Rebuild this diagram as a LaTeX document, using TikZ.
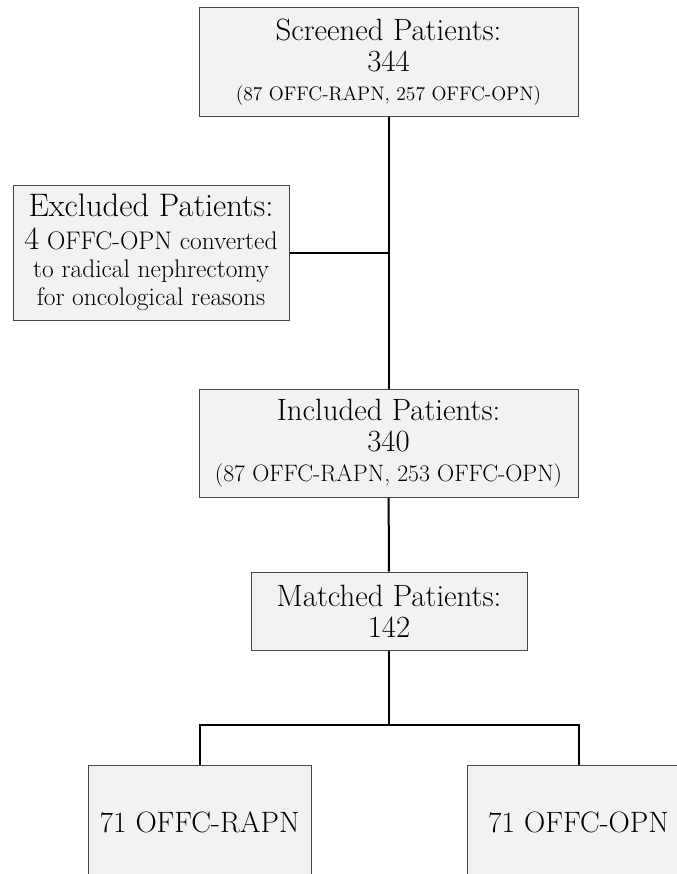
\documentclass[tikz,border=0pt]{standalone}
\usepackage{xcolor}
\definecolor{boxfill}{RGB}{242,242,242}
\definecolor{boxline}{RGB}{70,70,70}

\tikzset{every picture/.style={line width=0.75pt}}
\tikzset{
  patbox/.style={draw=boxline, fill=boxfill, line width=0.75pt, inner sep=0pt, align=center},
  link/.style={draw=black, line width=1.5pt},
}

\begin{document}
\begin{tikzpicture}[x=0.75pt,y=0.75pt,yscale=-1,xscale=1]
\clip (0,0) rectangle (677,874);

%Shape: Rectangle [id:screened]
\node [patbox, minimum width=284.25pt, minimum height=81pt, font=\fontsize{23.1}{23.25}\selectfont] (screened) at (388.5,62) {Screened Patients:\\344\\[-1.5pt]{\fontsize{14.7}{16}\selectfont (87 OFFC-RAPN, 257 OFFC-OPN)}};
%Shape: Rectangle [id:excluded]
\node [patbox, minimum width=207pt, minimum height=101.25pt, font=\fontsize{19.1}{21}\selectfont] (excluded) at (151,252.5) {{\fontsize{24.4}{24}\selectfont Excluded Patients:}\\[4pt]{\fontsize{24.4}{24}\selectfont 4} OFFC-OPN converted\\to radical nephrectomy\\for oncological reasons};
%Shape: Rectangle [id:included]
\node [patbox, minimum width=284.25pt, minimum height=81pt, font=\fontsize{23.1}{23.25}\selectfont] (included) at (388.5,443) {Included Patients:\\340\\[-1pt]{\fontsize{17.8}{18}\selectfont (87 OFFC-RAPN, 253 OFFC-OPN)}};
%Shape: Rectangle [id:matched]
\node [patbox, minimum width=207pt, minimum height=58.5pt, font=\fontsize{23.1}{23.25}\selectfont] (matched) at (389,611) {Matched Patients:\\142};
%Shape: Rectangle [id:rapn]
\node [patbox, minimum width=167.25pt, minimum height=85.5pt, font=\fontsize{22.1}{22}\selectfont] (rapn) at (199.5,822) {71 OFFC-RAPN};
%Shape: Rectangle [id:opn]
\node [patbox, minimum width=167.25pt, minimum height=85.5pt, font=\fontsize{22.1}{22}\selectfont] (opn) at (578.5,822) {71 OFFC-OPN};

%Straight Lines
\coordinate (join) at (screened.south |- excluded.east);
\coordinate (split) at (389,725);
\draw [link] (screened) -- (included);
\draw [link] (excluded.east) -- (join);
\draw [link] (included) -- (matched);
\draw [link] (matched) -- (split);
\draw [link] (rapn.north) |- (split) -| (opn.north);

\end{tikzpicture}
\end{document}
